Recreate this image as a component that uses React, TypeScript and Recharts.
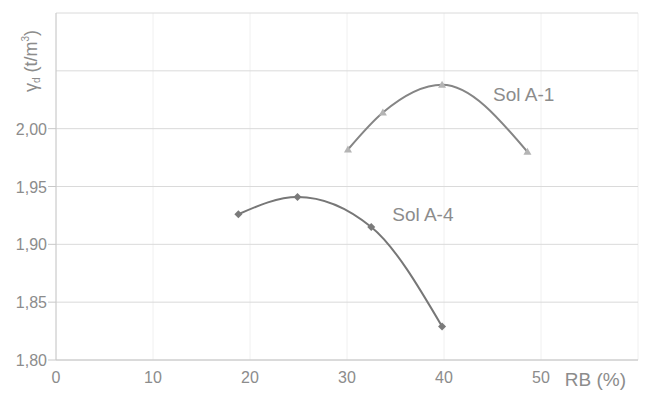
import React from "react";
import { LineChart, Line, XAxis, YAxis, CartesianGrid, Label } from "recharts";

// RB (%) vs dry density (t/m3)
const solA1 = [
  { x: 30.1, y: 1.982 },
  { x: 33.7, y: 2.014 },
  { x: 39.8, y: 2.038 },
  { x: 48.6, y: 1.98 },
];

const solA4 = [
  { x: 18.8, y: 1.926 },
  { x: 24.9, y: 1.941 },
  { x: 32.5, y: 1.915 },
  { x: 39.8, y: 1.829 },
];

const xTicks = [0, 10, 20, 30, 40, 50, 60];
const yTicks = [1.8, 1.85, 1.9, 1.95, 2.0, 2.05, 2.1];
const yLabelMax = 2.0;

const gray = "#8c8c8c";
const font = "'Liberation Sans', Arial, sans-serif";

const Triangle = (props: any) => {
  const { cx, cy } = props;
  if (cx == null || cy == null) return null;
  return (
    <polygon
      points={`${cx},${cy - 4} ${cx - 4},${cy + 3} ${cx + 4},${cy + 3}`}
      fill="#b4b4b4"
    />
  );
};

const Diamond = (props: any) => {
  const { cx, cy } = props;
  if (cx == null || cy == null) return null;
  return (
    <polygon
      points={`${cx},${cy - 4} ${cx + 4},${cy} ${cx},${cy + 4} ${cx - 4},${cy}`}
      fill="#7a7a7a"
    />
  );
};

const YTick = (props: any) => {
  const { x, y, payload } = props;
  if (payload.value > yLabelMax + 1e-9) return null;
  return (
    <g>
      <line x1={x} x2={x + 8} y1={y} y2={y} stroke="#c8c8c8" />
      <text
        x={x - 1}
        y={y}
        dy={6}
        textAnchor="end"
        fill={gray}
        fontSize={16}
        fontFamily={font}
      >
        {payload.value.toFixed(2).replace(".", ",")}
      </text>
    </g>
  );
};

const YLabel = (props: any) => {
  const { viewBox } = props;
  const cx = viewBox.x + 31;
  const cy = viewBox.y + 48;
  return (
    <text
      x={cx}
      y={cy}
      transform={`rotate(-90 ${cx} ${cy})`}
      textAnchor="middle"
      dominantBaseline="central"
      fill={gray}
      fontSize={18}
      fontFamily={font}
    >
      γ<tspan fontSize={10} dy={5}>d</tspan>
      <tspan dy={-5}> (t/m</tspan>
      <tspan fontSize={10} dy={-6}>3</tspan>
      <tspan dy={6}>)</tspan>
    </text>
  );
};

const XLabel = (props: any) => {
  const { viewBox } = props;
  return (
    <text
      x={viewBox.x + viewBox.width - 12}
      y={viewBox.y + 26}
      textAnchor="end"
      fill={gray}
      fontSize={19}
      fontFamily={font}
    >
      RB (%)
    </text>
  );
};

const SeriesLabel = (props: any) => {
  const { x, y, index, text, at, dx, dy } = props;
  if (index !== at) return null;
  return (
    <text x={x + dx} y={y + dy} fill={gray} fontSize={19} fontFamily={font}>
      {text}
    </text>
  );
};

export default function App() {
  return (
    <div style={{ position: "absolute", left: 0, top: 0, background: "#fff" }}>
      <LineChart
        width={650}
        height={393}
        margin={{ top: 13, right: 12, bottom: 0, left: 0 }}
      >
        <CartesianGrid stroke="#f0f0f0" horizontal={false} />
        <CartesianGrid stroke="#dadada" vertical={false} />
        <XAxis
          type="number"
          dataKey="x"
          domain={[0, 60]}
          ticks={xTicks}
          tickFormatter={(v: number) => (v === 60 ? "" : String(v))}
          tickLine={false}
          axisLine={{ stroke: "#c8c8c8" }}
          tick={{ fill: gray, fontSize: 16, fontFamily: font, dy: 4 }}
          height={33}
          allowDataOverflow
        >
          <Label content={<XLabel />} />
        </XAxis>
        <YAxis
          type="number"
          domain={[1.8, 2.1]}
          ticks={yTicks}
          tick={<YTick />}
          tickLine={false}
          axisLine={{ stroke: "#c8c8c8" }}
          width={56}
          label={<YLabel />}
        />
        <Line
          data={solA1}
          dataKey="y"
          type="monotone"
          stroke="#858585"
          strokeWidth={2}
          dot={<Triangle />}
          isAnimationActive={false}
          label={<SeriesLabel text="Sol A-1" at={2} dx={51} dy={16} />}
        />
        <Line
          data={solA4}
          dataKey="y"
          type="monotone"
          stroke="#777777"
          strokeWidth={2}
          dot={<Diamond />}
          isAnimationActive={false}
          label={<SeriesLabel text="Sol A-4" at={2} dx={21} dy={-6} />}
        />
      </LineChart>
    </div>
  );
}
